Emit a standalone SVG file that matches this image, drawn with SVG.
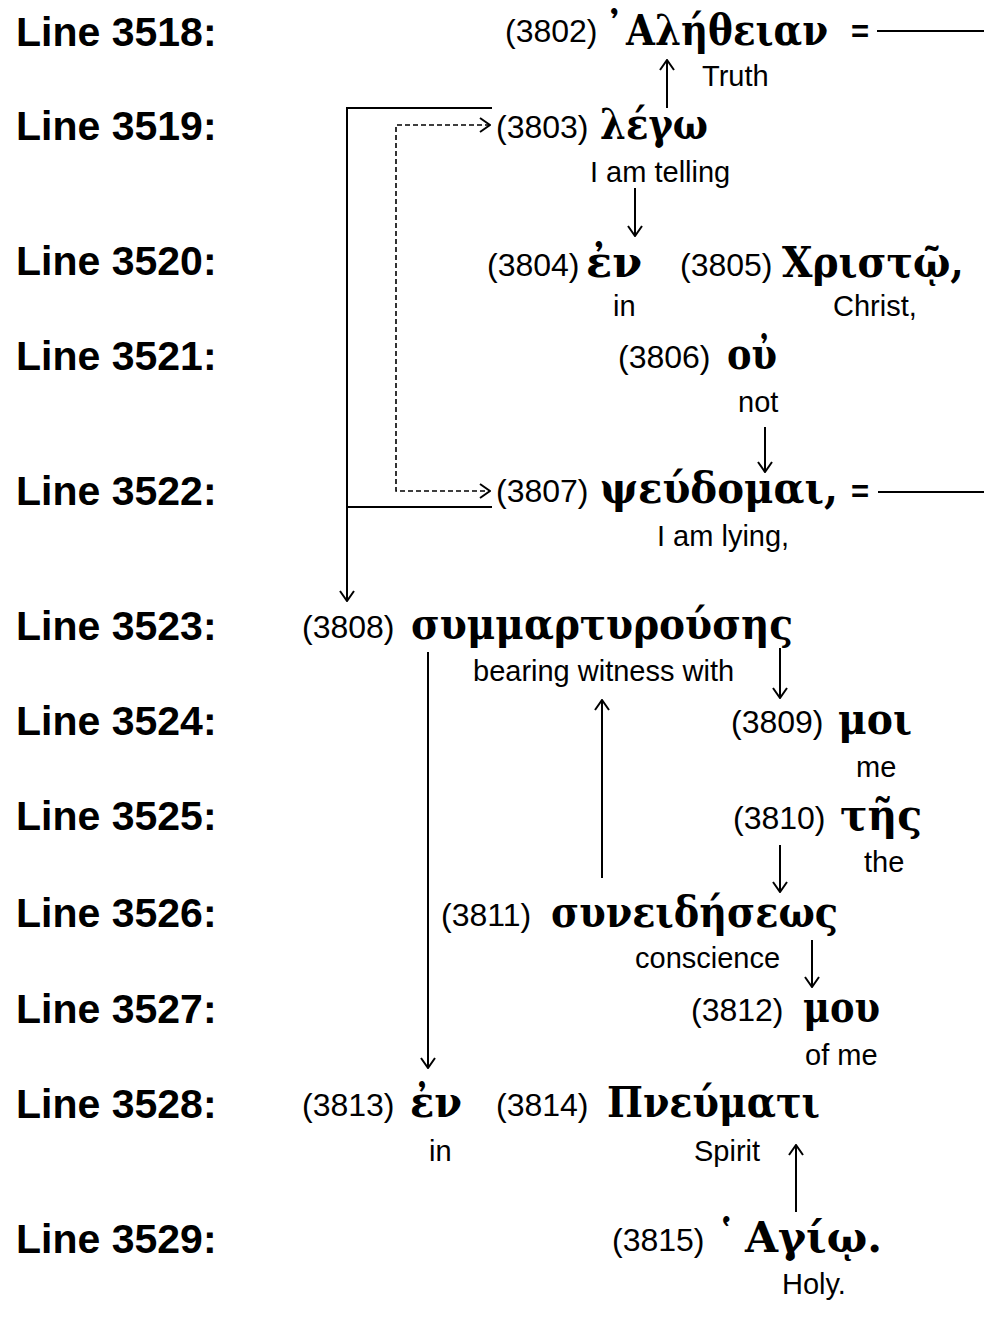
<svg xmlns="http://www.w3.org/2000/svg" width="984" height="1336" viewBox="0 0 984 1336">
<style>
.lbl{font-family:"Liberation Sans",Arial,sans-serif;font-weight:bold;font-size:41px;fill:#000}
.num{font-family:"Liberation Sans",Arial,sans-serif;font-size:32px;fill:#000}
.gl{font-family:"Liberation Sans",Arial,sans-serif;font-size:29px;fill:#000}
.gk{font-family:"DejaVu Serif","Liberation Serif",serif;font-weight:bold;font-size:42px;fill:#000}
.eq{font-family:"Liberation Sans",Arial,sans-serif;font-weight:bold;font-size:31px;fill:#000}
.ln{stroke:#000;stroke-width:2;fill:none}
.dash{stroke:#000;stroke-width:1.6;fill:none;stroke-dasharray:5 3}
</style>
<defs>
<marker id="arr" viewBox="0 0 12 16" refX="11" refY="8" markerWidth="12" markerHeight="16" markerUnits="userSpaceOnUse" orient="auto-start-reverse">
<path d="M1,1 L11,8 L1,15" fill="none" stroke="#000" stroke-width="2"/>
</marker>
</defs>
<rect width="984" height="1336" fill="#fff"/>
<g id="labels">
<text class="lbl" x="16" y="46">Line 3518:</text>
<text class="lbl" x="16" y="140">Line 3519:</text>
<text class="lbl" x="16" y="275">Line 3520:</text>
<text class="lbl" x="16" y="370">Line 3521:</text>
<text class="lbl" x="16" y="505">Line 3522:</text>
<text class="lbl" x="16" y="640">Line 3523:</text>
<text class="lbl" x="16" y="735">Line 3524:</text>
<text class="lbl" x="16" y="830">Line 3525:</text>
<text class="lbl" x="16" y="927">Line 3526:</text>
<text class="lbl" x="16" y="1023">Line 3527:</text>
<text class="lbl" x="16" y="1118">Line 3528:</text>
<text class="lbl" x="16" y="1253">Line 3529:</text>
</g>
<g id="w3802">
<text class="num" x="505" y="42">(3802)</text>
<text class="gk" x="604" y="44">᾿</text>
<text class="gk" x="626" y="45"><tspan textLength="202" lengthAdjust="spacingAndGlyphs">Αλήθειαν</tspan><tspan class="eq" x="851" y="42">=</tspan></text>
<text class="gl" x="702" y="86">Truth</text>
</g>
<g id="w3803">
<text class="num" x="496" y="138">(3803)</text>
<text class="gk" x="600" y="139" textLength="108" lengthAdjust="spacingAndGlyphs">λέγω</text>
<text class="gl" x="590" y="182">I am telling</text>
</g>
<g id="w3804">
<text class="num" x="487" y="276">(3804)</text>
<text class="gk" x="586" y="277" textLength="56" lengthAdjust="spacingAndGlyphs">ἐν</text>
<text class="gl" x="613" y="316">in</text>
</g>
<g id="w3805">
<text class="num" x="680" y="276">(3805)</text>
<text class="gk" x="782" y="277" textLength="182" lengthAdjust="spacingAndGlyphs">Χριστῷ,</text>
<text class="gl" x="833" y="316">Christ,</text>
</g>
<g id="w3806">
<text class="num" x="618" y="368">(3806)</text>
<text class="gk" x="727" y="369" textLength="50" lengthAdjust="spacingAndGlyphs">οὐ</text>
<text class="gl" x="738" y="412">not</text>
</g>
<g id="w3807">
<text class="num" x="496" y="502">(3807)</text>
<text class="gk" x="600" y="503" textLength="238" lengthAdjust="spacingAndGlyphs">ψεύδομαι,</text>
<text class="eq" x="851" y="502">=</text>
<text class="gl" x="657" y="546">I am lying,</text>
</g>
<g id="w3808">
<text class="num" x="302" y="638">(3808)</text>
<text class="gk" x="411" y="639" textLength="382" lengthAdjust="spacingAndGlyphs">συμμαρτυρούσης</text>
<text class="gl" x="473" y="681">bearing witness with</text>
</g>
<g id="w3809">
<text class="num" x="731" y="733">(3809)</text>
<text class="gk" x="838" y="734" textLength="74" lengthAdjust="spacingAndGlyphs">μοι</text>
<text class="gl" x="856" y="777">me</text>
</g>
<g id="w3810">
<text class="num" x="733" y="829">(3810)</text>
<text class="gk" x="840" y="830" textLength="82" lengthAdjust="spacingAndGlyphs">τῆς</text>
<text class="gl" x="864" y="872">the</text>
</g>
<g id="w3811">
<text class="num" x="441" y="926">(3811)</text>
<text class="gk" x="551" y="927" textLength="287" lengthAdjust="spacingAndGlyphs">συνειδήσεως</text>
<text class="gl" x="635" y="968">conscience</text>
</g>
<g id="w3812">
<text class="num" x="691" y="1021">(3812)</text>
<text class="gk" x="803" y="1022" textLength="77" lengthAdjust="spacingAndGlyphs">μου</text>
<text class="gl" x="805" y="1065">of me</text>
</g>
<g id="w3813">
<text class="num" x="302" y="1116">(3813)</text>
<text class="gk" x="410" y="1117" textLength="52" lengthAdjust="spacingAndGlyphs">ἐν</text>
<text class="gl" x="429" y="1161">in</text>
</g>
<g id="w3814">
<text class="num" x="496" y="1116">(3814)</text>
<text class="gk" x="607" y="1117" textLength="213" lengthAdjust="spacingAndGlyphs">Πνεύματι</text>
<text class="gl" x="694" y="1161">Spirit</text>
</g>
<g id="w3815">
<text class="num" x="612" y="1251">(3815)</text>
<text class="gk" x="716" y="1252">῾</text>
<text class="gk" x="745" y="1252" textLength="137" lengthAdjust="spacingAndGlyphs">Αγίῳ.</text>
<text class="gl" x="782" y="1294">Holy.</text>
</g>
<g id="connectors">
<line class="ln" x1="877" y1="31" x2="984" y2="31"/>
<line class="ln" x1="878" y1="492" x2="984" y2="492"/>
<line class="ln" x1="667" y1="108" x2="667" y2="60" marker-end="url(#arr)"/>
<line class="ln" x1="635" y1="188" x2="635" y2="236" marker-end="url(#arr)"/>
<line class="ln" x1="765" y1="427" x2="765" y2="472" marker-end="url(#arr)"/>
<path class="ln" d="M492,108 H347 V601" marker-end="url(#arr)"/>
<line class="ln" x1="347" y1="507" x2="492" y2="507"/>
<path class="dash" d="M490,125 H396 V491 H490" marker-start="url(#arr)" marker-end="url(#arr)"/>
<line class="ln" x1="780" y1="648" x2="780" y2="698" marker-end="url(#arr)"/>
<line class="ln" x1="428" y1="652" x2="428" y2="1068" marker-end="url(#arr)"/>
<line class="ln" x1="602" y1="878" x2="602" y2="700" marker-end="url(#arr)"/>
<line class="ln" x1="780" y1="845" x2="780" y2="892" marker-end="url(#arr)"/>
<line class="ln" x1="812" y1="940" x2="812" y2="987" marker-end="url(#arr)"/>
<line class="ln" x1="796" y1="1212" x2="796" y2="1145" marker-end="url(#arr)"/>
</g>
</svg>
